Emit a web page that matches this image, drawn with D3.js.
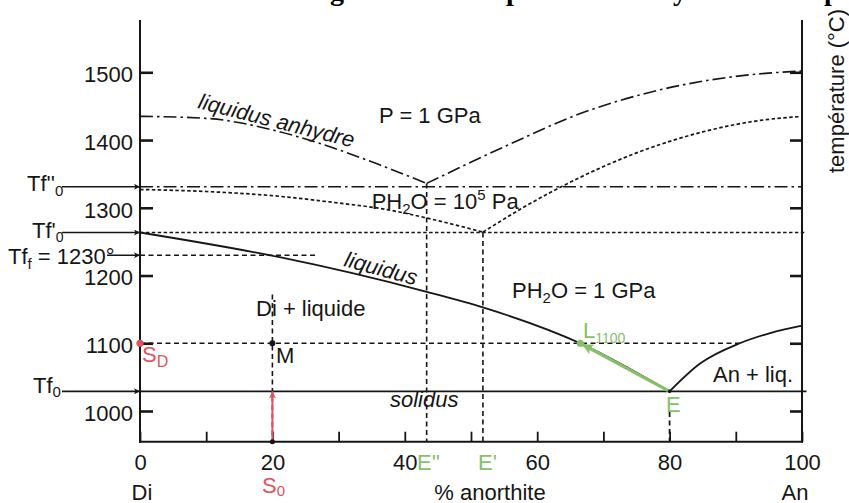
<!DOCTYPE html>
<html><head><meta charset="utf-8">
<script src="https://cdn.jsdelivr.net/npm/d3@7"></script>
<style>html,body{margin:0;padding:0;background:#fff;} svg{display:block;}</style>
</head><body>
<svg id="chart" width="849" height="503"></svg>
<script>
// ---------------- data ----------------
const xTicks = [0, 10, 20, 30, 40, 50, 60, 70, 80, 90, 100];
const xTickLabels = [0, 20, 40, 60, 80, 100];
const yTicks = [1000, 1100, 1200, 1300, 1400, 1500];

// liquidus anhydre (P = 1 GPa), two branches meeting at E''
const anhydreLeft  = [[0, 1435], [10, 1432], [20, 1415], [28.7, 1390], [36.3, 1363], [43.3, 1336]];
const anhydreRight = [[43.3, 1336], [55, 1390], [66.5, 1439], [78.5, 1474], [90, 1494], [100, 1502]];
// liquidus PH2O = 1e5 Pa, branches meeting at E'
const lowH2OLeft  = [[0, 1327], [10, 1324], [21, 1317], [30, 1307], [36.3, 1299], [45, 1281], [51.8, 1264]];
const lowH2ORight = [[51.8, 1264], [58, 1301], [66.5, 1345], [75, 1381], [85, 1412], [93.7, 1429], [99.5, 1434.5]];
// liquidus PH2O = 1 GPa, branches meeting at E
const wetLeft  = [[0, 1263.5], [21.1, 1227], [43.3, 1176], [51.8, 1153], [66.5, 1100], [80, 1029]];
const wetRight = [[80, 1029], [84.6, 1070], [90.6, 1100], [95.2, 1115], [100, 1126]];

// reference temperatures (°C)
const T_f2 = 1331;      // Tf''0
const T_f1 = 1263.5;    // Tf'0
const T_ff = 1230;      // Tf_f
const T_f0 = 1029;      // Tf0 (solidus)
const T_1100 = 1100;
const T_mTop = 1172;
const T_eLow = 998.5;
// compositions (% anorthite)
const X_M = 20, X_E2 = 43.3, X_E1 = 51.8, X_E = 80, X_L = 66.5, X_R1100 = 90.6, X_ffEnd = 26.7;

// ---------------- setup ----------------
const svg = d3.select("#chart");
const FONT = "'Liberation Sans', Arial, Helvetica, sans-serif";
const INK = "#161616";
const RED = "#e0535e";
const GREEN = "#86c06a";

const x = d3.scaleLinear().domain([0, 100]).range([140, 802]);
const y = d3.scaleLinear().domain([1000, 1500]).range([411, 72.3]);
const yTop = 20, yBot = 441.7;

const line = d3.line().x(d => x(d[0])).y(d => y(d[1])).curve(d3.curveMonotoneX);

const DASHDOT = "13,4,2.5,4";
const DOTTED = "3.5,2.4";
const DASHED = "5,3.5";

const defs = svg.append("defs");
function marker(id, color, len, wid) {
  defs.append("marker").attr("id", id)
    .attr("viewBox", "0 0 10 10").attr("refX", 10).attr("refY", 5)
    .attr("markerUnits", "userSpaceOnUse")
    .attr("markerWidth", len).attr("markerHeight", wid)
    .attr("orient", "auto")
    .append("path").attr("d", "M0,0 L10,5 L0,10 L2.5,5 z").attr("fill", color);
}
marker("arrK", INK, 9, 6);
marker("arrR", RED, 10, 7);
marker("arrG", GREEN, 14, 11);

// ---------------- title (cut off at the top) ----------------
const title = svg.append("text").attr("y", -0.5)
  .attr("font-family", "'Liberation Serif', 'Times New Roman', serif")
  .attr("font-weight", "bold").attr("font-size", 28).attr("fill", "#000");
[["Diagramme de", 288], ["phase du", 506], ["système sous", 662], ["pression", 824]].forEach(([t, px]) => {
  title.append("tspan").attr("x", px).text(t);
});

// ---------------- guide lines ----------------
const G = svg.append("g");
function seg(x1, t1, x2, t2, dash, w, color, px1, px2) {
  return G.append("line")
    .attr("x1", px1 !== undefined ? px1 : x(x1)).attr("y1", y(t1))
    .attr("x2", px2 !== undefined ? px2 : x(x2)).attr("y2", y(t2))
    .attr("stroke", color || INK).attr("stroke-width", w)
    .attr("stroke-dasharray", dash || null);
}
// horizontal levels
seg(0, T_f2, 100, T_f2, DASHDOT, 1.6);
seg(0, T_f1, 100, T_f1, DOTTED, 1.7, INK, undefined, x(100) + 4.5);
seg(0, T_ff, X_ffEnd, T_ff, DASHED, 1.6);
seg(0, T_1100, X_R1100, T_1100, DASHED, 1.6);
seg(0, T_f0, 100, T_f0, null, 1.8, INK, undefined, x(100) + 4.5);
// verticals
seg(X_E2, 1336, X_E2, 0, DASHED, 1.6).attr("y2", yBot);
seg(X_E1, T_f1, X_E1, 0, DASHED, 1.6).attr("y2", yBot);
seg(X_M, T_mTop, X_M, 0, DASHED, 1.6).attr("y2", yBot + 4);
seg(X_E, T_eLow, X_E, 0, DASHED, 1.8).attr("y2", yBot);

// ---------------- curves ----------------
const C = svg.append("g").attr("fill", "none").attr("stroke", INK);
C.append("path").datum(anhydreLeft).attr("d", line).attr("stroke-width", 1.6).attr("stroke-dasharray", DASHDOT);
C.append("path").datum(anhydreRight).attr("d", line).attr("stroke-width", 1.6).attr("stroke-dasharray", DASHDOT);
C.append("path").datum(lowH2OLeft).attr("d", line).attr("stroke-width", 1.7).attr("stroke-dasharray", DOTTED);
C.append("path").datum(lowH2ORight).attr("d", line).attr("stroke-width", 1.7).attr("stroke-dasharray", DOTTED);
C.append("path").datum(wetLeft).attr("d", line).attr("stroke-width", 1.8);
C.append("path").datum(wetRight).attr("d", line).attr("stroke-width", 1.8);

// ---------------- axes ----------------
const gy = svg.append("g").attr("transform", `translate(${x(0)},0)`)
  .call(d3.axisLeft(y).tickValues(yTicks).tickFormat(d3.format("d"))
    .tickSizeInner(-13).tickSizeOuter(0).tickPadding(7));
gy.select(".domain").remove();
gy.selectAll(".tick line").attr("stroke", INK).attr("stroke-width", 2.6);
gy.selectAll(".tick text").attr("font-size", 22).attr("font-family", FONT).attr("fill", INK).attr("dy", "0.43em");

const gr = svg.append("g").attr("transform", `translate(${x(100)},0)`)
  .call(d3.axisRight(y).tickValues(yTicks).tickSizeInner(-12).tickSizeOuter(0).tickFormat(() => ""));
gr.select(".domain").remove();
gr.selectAll(".tick line").attr("stroke", INK).attr("stroke-width", 2.6);

const gx = svg.append("g").attr("transform", `translate(0,${yBot})`)
  .call(d3.axisBottom(x).tickValues(xTicks).tickSizeInner(-10).tickSizeOuter(0).tickPadding(12.7)
    .tickFormat(d => xTickLabels.includes(d) ? d3.format("d")(d) : ""));
gx.select(".domain").remove();
gx.selectAll(".tick line").attr("stroke", INK).attr("stroke-width", 1.8);
gx.selectAll(".tick text").attr("font-size", 22).attr("font-family", FONT).attr("fill", INK);

const A = svg.append("g").attr("stroke", INK).attr("stroke-width", 2);
A.append("line").attr("x1", x(0)).attr("x2", x(0)).attr("y1", yTop).attr("y2", yBot + 1);
A.append("line").attr("x1", x(100)).attr("x2", x(100)).attr("y1", yTop).attr("y2", yBot + 1);
A.append("line").attr("x1", x(0) - 1).attr("x2", x(100) + 1).attr("y1", yBot).attr("y2", yBot);

// ---------------- arrows ----------------
[[T_f2, 62], [T_f1, 62], [T_ff, 107], [T_f0, 62]].forEach(([t, px]) => {
  svg.append("line").attr("x1", px).attr("x2", x(0)).attr("y1", y(t)).attr("y2", y(t))
    .attr("stroke", INK).attr("stroke-width", 1.6).attr("marker-end", "url(#arrK)");
});
svg.append("line").attr("x1", x(X_M)).attr("x2", x(X_M)).attr("y1", yBot - 1).attr("y2", y(T_f0))
  .attr("stroke", RED).attr("stroke-width", 2).attr("marker-end", "url(#arrR)");
svg.append("line").attr("x1", x(X_E)).attr("y1", y(T_f0)).attr("x2", x(X_L) + 2).attr("y2", y(T_1100) + 1)
  .attr("stroke", GREEN).attr("stroke-width", 3.2).attr("marker-end", "url(#arrG)");

// points
svg.append("circle").attr("cx", x(0)).attr("cy", y(T_1100)).attr("r", 3.6).attr("fill", RED);
svg.append("circle").attr("cx", x(X_M)).attr("cy", y(T_1100)).attr("r", 3).attr("fill", INK);
svg.append("circle").attr("cx", x(X_M)).attr("cy", yBot).attr("r", 2.5).attr("fill", INK);
svg.append("circle").attr("cx", x(X_L)).attr("cy", y(T_1100)).attr("r", 3.6).attr("fill", GREEN);
svg.append("circle").attr("cx", x(X_E)).attr("cy", y(T_f0)).attr("r", 1.8).attr("fill", INK);

// ---------------- texts ----------------
function rich(px, py, parts, opts = {}) {
  const t = svg.append("text").attr("x", px).attr("y", py)
    .attr("font-family", FONT).attr("font-size", opts.size || 22)
    .attr("fill", opts.color || INK)
    .attr("text-anchor", opts.anchor || "start");
  if (opts.italic) t.attr("font-style", "italic");
  if (opts.transform) t.attr("transform", opts.transform).attr("x", 0).attr("y", 0);
  let cur = 0;
  parts.forEach(p => {
    const s = typeof p === "string" ? { t: p } : p;
    const target = s.sub ? (s.dy || 5) : s.sup ? -(s.dy || 9) : 0;
    const ts = t.append("tspan").attr("dy", target - cur).text(s.t);
    if (s.sub || s.sup) ts.attr("font-size", s.size || 15);
    cur = target;
  });
  return t;
}

rich(379, 122.7, ["P = 1 GPa"]);
rich(371.7, 209, ["PH", { t: "2", sub: true }, "O = 10", { t: "5", sup: true }, " Pa"]);
rich(256, 316, ["Di + liquide"]);
rich(512, 298, ["PH", { t: "2", sub: true }, "O = 1 GPa"]);
rich(713, 381.7, ["An + liq."]);
rich(276, 363, ["M"]);
rich(390, 407, ["solidus"], { italic: true });
rich(0, 0, ["liquidus anhydre"], { italic: true, transform: "translate(197,108) rotate(14.3)" });
rich(0, 0, ["liquidus"], { italic: true, transform: "translate(343,266) rotate(15)" });

rich(142, 500, ["Di"], { anchor: "middle" });
rich(795, 500, ["An"], { anchor: "middle" });
rich(490, 500, ["% anorthite"], { anchor: "middle" });
rich(262, 493, ["S", { t: "0", sub: true, dy: 3 }], { color: RED });
rich(142, 361.7, ["S", { t: "D", sub: true, dy: 5, size: 16 }], { color: RED });
rich(417, 470, ["E''"], { color: GREEN });
rich(478, 470, ["E'"], { color: GREEN });
rich(666, 411.7, ["E"], { color: GREEN });
rich(583, 338, ["L", { t: "1100", sub: true, dy: 5, size: 14 }], { color: GREEN });

rich(27, 190.7, ["Tf''", { t: "0", sub: true, dy: 5.5 }]);
rich(32, 238, ["Tf'", { t: "0", sub: true, dy: 3.5, size: 14 }]);
rich(8, 263.5, ["Tf", { t: "f", sub: true, dy: 5 }, " = 1230°"]);
rich(33, 393.3, ["Tf", { t: "0", sub: true, dy: 3.5 }]);

svg.append("text").attr("transform", "translate(843.5,173) rotate(-90)")
  .attr("font-family", FONT).attr("font-size", 22).attr("fill", INK)
  .text("température (°C)");
</script>
</body></html>
